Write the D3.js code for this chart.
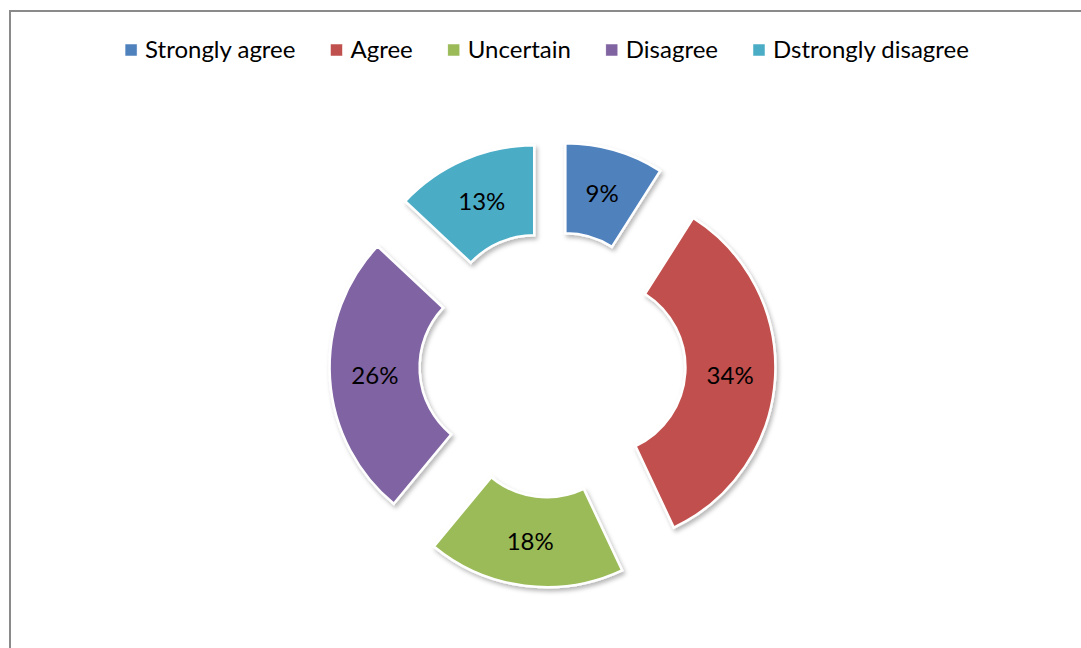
<!DOCTYPE html>
<html>
<head>
<meta charset="utf-8">
<script src="https://cdn.jsdelivr.net/npm/d3@7"></script>
<style>
  html, body { margin: 0; padding: 0; background: #fff; }
  svg { display: block; }
  text { font-family: Lato, "Open Sans", sans-serif; fill: #000; }
</style>
</head>
<body>
<svg id="chart" width="1081" height="648"></svg>
<script>
// Survey responses (share of respondents, %)
const categories = ["Strongly agree", "Agree", "Uncertain", "Disagree", "Dstrongly disagree"];
const values = [9, 34, 18, 26, 13];
const colors = ["#4F81BD", "#C0504D", "#9BBB59", "#8064A2", "#4BACC6"];

const W = 1081, H = 648;
const svg = d3.select("#chart");

// Chart frame
svg.append("rect")
  .attr("x", 10).attr("y", 11)
  .attr("width", 1300).attr("height", 900)
  .attr("fill", "none").attr("stroke", "#8a8a8a").attr("stroke-width", 2);

// Soft drop shadow under each segment
const defs = svg.append("defs");
const f = defs.append("filter").attr("id", "shadow")
  .attr("x", "-20%").attr("y", "-20%").attr("width", "140%").attr("height", "140%");
f.append("feDropShadow")
  .attr("dx", 2).attr("dy", 3).attr("stdDeviation", 2)
  .attr("flood-color", "#000").attr("flood-opacity", 0.28);

// Donut geometry
const cx = 552.5, cy = 364.5;
const outerR = 177, innerR = 87, explode = 46;

const pie = d3.pie().sort(null).value(d => d);
const arc = d3.arc().innerRadius(innerR).outerRadius(outerR);
const arcs = pie(values);

const g = svg.append("g").attr("transform", `translate(${cx},${cy})`);

const seg = g.selectAll("g.seg").data(arcs).enter().append("g")
  .attr("class", "seg")
  .attr("transform", d => {
    const a = (d.startAngle + d.endAngle) / 2;
    return `translate(${Math.sin(a) * explode},${-Math.cos(a) * explode})`;
  });

seg.append("path")
  .attr("d", arc)
  .attr("fill", (d, i) => colors[i])
  .attr("stroke", "#fff")
  .attr("stroke-width", 2.5)
  .attr("stroke-linejoin", "miter")
  .attr("filter", "url(#shadow)");

seg.append("text")
  .attr("transform", d => `translate(${arc.centroid(d)})`)
  .attr("text-anchor", "middle")
  .attr("dy", "0.36em")
  .attr("font-size", 24)
  .text(d => d.data + "%");

// Legend across the top, centred
const legend = svg.append("g");
const sq = 12, sqGap = 8, itemGap = 35;
const items = legend.selectAll("g.item").data(categories).enter().append("g").attr("class", "item");
items.append("rect")
  .attr("width", sq).attr("height", sq)
  .attr("y", 44)
  .attr("fill", (d, i) => colors[i])
  .attr("stroke", "#fff").attr("stroke-width", 0.5);
items.append("text")
  .attr("x", sq + sqGap)
  .attr("y", 58)
  .attr("font-size", 24)
  .text(d => d);

const widths = [];
items.each(function () {
  widths.push(sq + sqGap + d3.select(this).select("text").node().getComputedTextLength());
});
const total = d3.sum(widths) + itemGap * (widths.length - 1);
let x = 547 - total / 2;
items.attr("transform", (d, i) => {
  const t = `translate(${x},0)`;
  x += widths[i] + itemGap;
  return t;
});
</script>
</body>
</html>
